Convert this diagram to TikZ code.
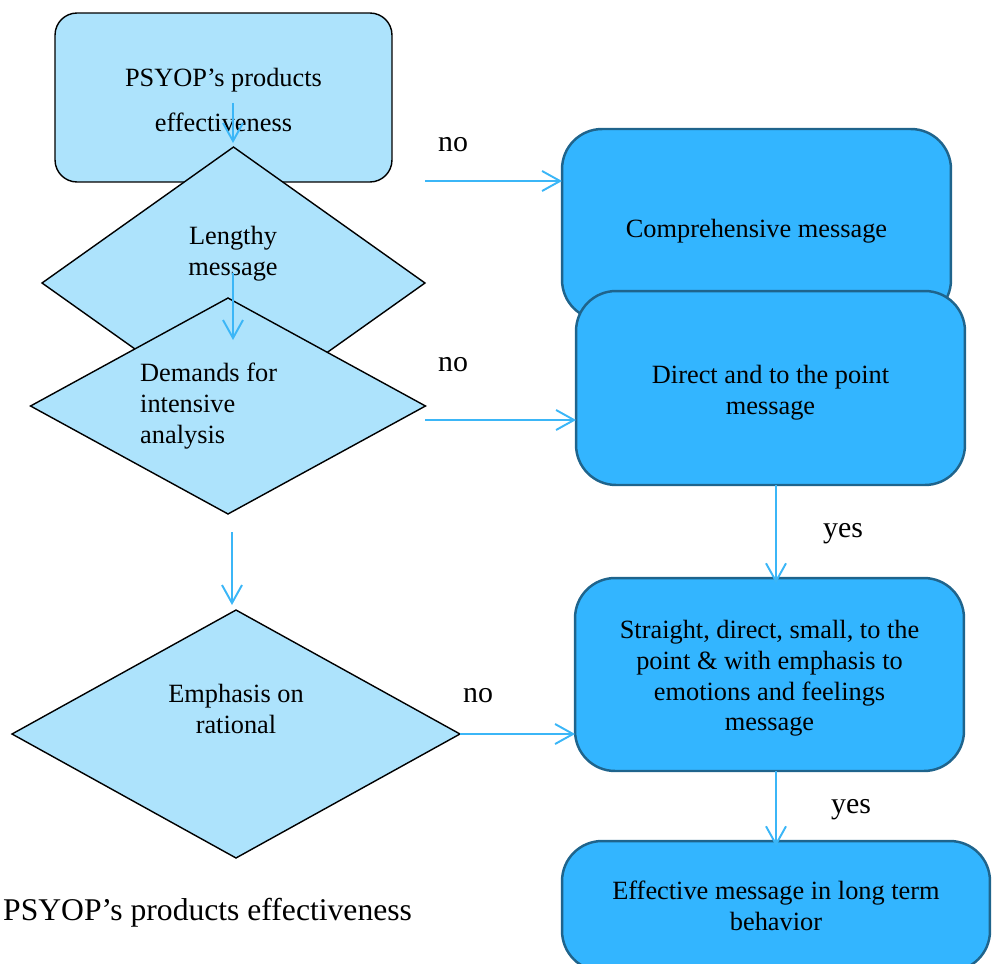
\documentclass[tikz,border=0pt]{standalone}
\usepackage{fontspec}
\setmainfont{Liberation Serif}
\usepackage{tikz}
\usetikzlibrary{arrows.meta}
\usetikzlibrary{shapes.geometric}

\definecolor{paleblue}{RGB}{173,227,252}
\definecolor{skyblue}{RGB}{51,181,255}
\definecolor{edgeblue}{RGB}{31,100,140}
\definecolor{arrowblue}{RGB}{59,182,247}

\begin{document}
\begin{tikzpicture}[x=0.02cm, y=-0.02cm,
            lightbox/.style={draw=black, line width=0.8pt, fill=paleblue,
                rounded corners=0.44cm, inner sep=0pt, outer sep=0pt,
                align=center, font=\fontsize{15}{17.5}\selectfont},
            decision/.style={draw=black, line width=0.8pt, fill=paleblue,
                shape=diamond, inner sep=0pt, outer sep=0pt},
            bluebox/.style={draw=edgeblue, line width=1.4pt, fill=skyblue,
                rounded corners=0.8cm, inner sep=0pt, outer sep=0pt,
                align=center, font=\fontsize{15}{17.5}\selectfont},
            sink/.style={execute at begin node={\rule{0pt}{#1}}},
            dtext/.style={align=center, font=\fontsize{15}{17.5}\selectfont},
            flow/.style={draw=arrowblue, line width=1.1pt,
                -{Straight Barb[length=3.6mm, width=4mm]}},
            lbl/.style={font=\fontsize{17}{20}\selectfont}]
            \clip (0, 0) rectangle (993, 963);
            % left column
            \node [lightbox, sink=38.7pt, minimum width=6.74cm, minimum height=3.38cm]
                (start) at (223.5, 97.5) {PSYOP’s products\\[8pt]effectiveness};
            \node [decision, minimum width=7.66cm, minimum height=5.44cm]
                (lengthy) at (233.5, 283) {};
            \node [dtext] (lengthy-txt) at (233, 254) {Lengthy\\message};
            \node [decision, minimum width=7.9cm, minimum height=4.32cm]
                (demands) at (228, 406) {};
            \node [dtext, align=left, anchor=west] (demands-txt) at (134, 406)
                {Demands for\\intensive\\analysis};
            \node [decision, minimum width=8.96cm, minimum height=4.96cm]
                (rational) at (236, 734) {};
            \node [dtext] (rational-txt) at (236, 709) {Emphasis on\\rational};
            \node [anchor=west, font=\fontsize{18}{22}\selectfont] (caption)
                at (-3, 913) {PSYOP’s products effectiveness};
            % right column
            \node [bluebox, sink=18.3pt, minimum width=7.78cm, minimum height=3.82cm]
                (comprehensive) at (756.5, 224.5) {Comprehensive message};
            \node [bluebox, sink=33.5pt, minimum width=7.78cm, minimum height=3.88cm]
                (direct) at (770.5, 388) {Direct and to the point\\message};
            \node [bluebox, sink=67.4pt, minimum width=7.78cm, minimum height=3.86cm]
                (straight) at (769.5, 674.5)
                {Straight, direct, small, to the\\point \& with emphasis to\\emotions and feelings\\message};
            \node [bluebox, minimum width=8.56cm, minimum height=2.6cm]
                (effective) at (776, 906) {Effective message in long term\\behavior};
            % connectors
            \coordinate (s1) at (233, 103);
            \coordinate (e1) at (233, 143);
            \coordinate (s2) at (233, 273);
            \coordinate (e2) at (233, 340);
            \coordinate (s3) at (232, 532);
            \coordinate (e3) at (232, 605);
            \coordinate (n1) at (425, 181);
            \coordinate (n2) at (425, 420);
            \coordinate (axis) at (776, 0);
            \draw [flow] (s1) -- (e1);
            \draw [flow] (s2) -- (e2);
            \draw [flow] (s3) -- (e3);
            \draw [flow] (n1) -- (n1 -| comprehensive.west);
            \draw [flow] (n2) -- (n2 -| direct.west);
            \draw [flow] (rational.east) -- (rational.east -| straight.west);
            \draw [flow] (axis |- direct.south) -- ([yshift=-3] axis |- straight.north);
            \draw [flow] (axis |- straight.south) -- ([yshift=-3] axis |- effective.north);
            \node [lbl] (no1) at (453, 145) {no};
            \node [lbl] (no2) at (453, 365) {no};
            \node [lbl] (no3) at (478, 696) {no};
            \node [lbl] (yes1) at (843, 534) {yes};
            \node [lbl] (yes2) at (851, 810) {yes};
        \end{tikzpicture}
\end{document}
